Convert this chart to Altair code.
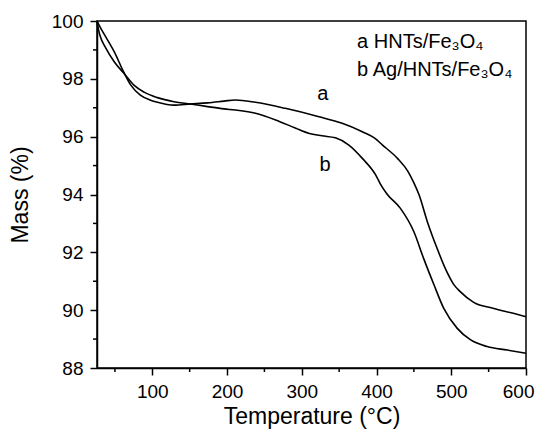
import altair as alt
import pandas as pd

# Curve a: HNTs/Fe3O4
temp_a = [26, 30, 35, 49, 62, 71, 84, 96, 107, 129, 151, 174, 196, 211, 238, 278, 323, 354, 381,
          398, 408, 428, 442, 450, 457, 468, 481, 494, 503, 512, 530, 557, 583, 600]
mass_a = [100.0, 99.8, 99.57, 98.94, 98.22, 97.79, 97.44, 97.28, 97.19, 97.09, 97.13, 97.17, 97.23,
          97.27, 97.19, 96.98, 96.69, 96.46, 96.17, 95.94, 95.71, 95.25, 94.8, 94.4, 93.98, 93.06,
          92.14, 91.33, 90.9, 90.64, 90.27, 90.06, 89.89, 89.77]

# Curve b: Ag/HNTs/Fe3O4
temp_b = [26, 28, 30, 38, 49, 62, 75, 89, 107, 129, 151, 174, 196, 211, 238, 265, 292, 309, 327,
          345, 363, 381, 399, 405, 414, 432, 450, 463, 477, 490, 508, 526, 548, 575, 600]
mass_b = [100.0, 99.7, 99.5, 99.05, 98.59, 98.19, 97.79, 97.54, 97.35, 97.21, 97.13, 97.04, 96.96,
          96.92, 96.81, 96.58, 96.29, 96.12, 96.03, 95.96, 95.71, 95.25, 94.67, 94.37, 94.02, 93.52,
          92.71, 91.79, 90.87, 90.06, 89.37, 88.97, 88.74, 88.62, 88.51]

curve_labels = ["a", "b"]
curve_label_x = [328, 331]
curve_label_y = [97.46, 95.02]

legend_lines = ["a HNTs/Fe\u2083O\u2084", "b Ag/HNTs/Fe\u2083O\u2084"]
legend_x = [374, 374]
legend_y = [99.28, 98.30]

x_major = [100, 200, 300, 400, 500, 600]
x_minor = [50, 150, 250, 350, 450, 550]
y_major = [88, 90, 92, 94, 96, 98, 100]
y_minor = [89, 91, 93, 95, 97, 99]

df = pd.concat([
    pd.DataFrame({"T": temp_a, "M": mass_a, "s": "a"}),
    pd.DataFrame({"T": temp_b, "M": mass_b, "s": "b"}),
])
lab_df = pd.DataFrame({"T": curve_label_x, "M": curve_label_y, "t": curve_labels})
leg_df = pd.DataFrame({"T": legend_x, "M": legend_y, "t": legend_lines})
xminor_df = pd.DataFrame({"T": x_minor})
yminor_df = pd.DataFrame({"M": y_minor})

FONT = "Liberation Sans"
W, H = 429, 347

xscale = alt.Scale(domain=[26, 600], nice=False, zero=False)
yscale = alt.Scale(domain=[88, 100], nice=False, zero=False)

xaxis = alt.Axis(
    values=x_major,
    title="Temperature (\u00b0C)",
    grid=False,
    labelOverlap=False,
    labelFlush=True,
    labelFlushOffset=8,
    tickSize=7,
    labelPadding=7,
    titlePadding=4,
)
yaxis = alt.Axis(
    values=y_major,
    title="Mass (%)",
    grid=False,
    labelOverlap=False,
    labelFlush=False,
    tickSize=7,
    labelPadding=7,
    titlePadding=19,
)

lines = alt.Chart(df).mark_line(color="black", strokeWidth=1.6, interpolate="monotone").encode(
    x=alt.X("T:Q", scale=xscale, axis=xaxis),
    y=alt.Y("M:Q", scale=yscale, axis=yaxis),
    detail="s:N",
)

xminor = alt.Chart(xminor_df).mark_rule(color="black", strokeWidth=1.5).encode(
    x=alt.X("T:Q", scale=xscale),
    y=alt.value(H),
    y2=alt.value(H + 4),
)
yminor = alt.Chart(yminor_df).mark_rule(color="black", strokeWidth=1.5).encode(
    y=alt.Y("M:Q", scale=yscale),
    x=alt.value(-4),
    x2=alt.value(0),
)

labels = alt.Chart(lab_df).mark_text(font=FONT, fontSize=20, color="black").encode(
    x=alt.X("T:Q", scale=xscale), y=alt.Y("M:Q", scale=yscale), text="t:N"
)

legend = alt.Chart(leg_df).mark_text(font=FONT, fontSize=20, color="black", align="left").encode(
    x=alt.X("T:Q", scale=xscale), y=alt.Y("M:Q", scale=yscale), text="t:N"
)

chart = alt.layer(lines, xminor, yminor, labels, legend).properties(
    width=W,
    height=H,
    background="white",
    autosize=alt.AutoSizeParams(type="none"),
    padding={"left": 89, "top": 13, "right": 9, "bottom": 61},
).configure_view(
    stroke="black", strokeWidth=1.5
).configure_axis(
    domainColor="black", domainWidth=1.5, tickColor="black", tickWidth=1.5,
    labelFont=FONT, labelFontSize=19, labelColor="black",
    titleFont=FONT, titleFontSize=23, titleFontWeight="normal", titleColor="black",
)

chart.save("out.html", embed_options={"renderer": "svg", "actions": False})
